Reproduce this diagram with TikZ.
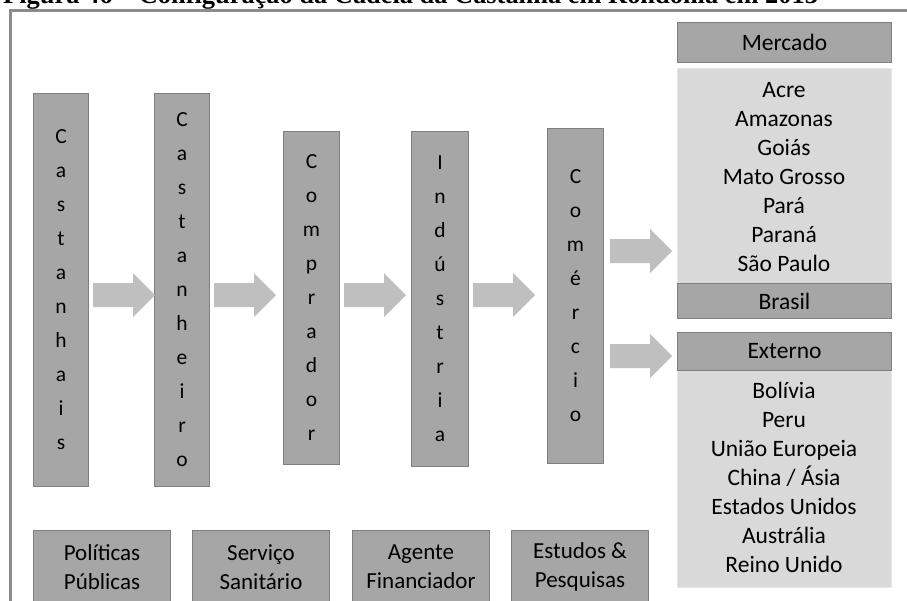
\documentclass[tikz,border=0pt]{standalone}
\usepackage{fontspec}
\setmainfont{Carlito}
\newfontfamily\titlefont{Liberation Serif}
\usetikzlibrary{calc}

\definecolor{caixa}{HTML}{A6A6A6}
\definecolor{borda}{HTML}{7F7F7F}
\definecolor{painel}{HTML}{D9D9D9}
\definecolor{painelborda}{HTML}{E6E6E6}
\definecolor{seta}{HTML}{BFBFBF}
\definecolor{moldura}{HTML}{8C8C8C}

\tikzset{
  elo/.style={draw=borda, fill=caixa, line width=1pt, inner sep=0pt,
    anchor=north west, align=center,
    execute at begin node={\rule{0pt}{26pt}},
    font=\fontsize{21.5}{34}\selectfont},
  apoio/.style={draw=borda, fill=caixa, line width=1pt, inner sep=0pt,
    anchor=north west, minimum width=137pt, minimum height=73pt,
    align=center, font=\fontsize{23}{29}\selectfont},
  faixa/.style={draw=borda, fill=caixa, line width=1pt, inner sep=0pt,
    anchor=north west, minimum width=214pt, align=center,
    font=\fontsize{23.5}{29}\selectfont},
  painelbox/.style={draw=painelborda, fill=painel, line width=1pt,
    inner sep=0pt, anchor=north west, minimum width=214pt},
  lista/.style={align=center, inner sep=0pt, anchor=base,
    font=\fontsize{23.5}{29}\selectfont},
  setafill/.style={fill=seta},
}

% block arrow leaving node #1 (gap #2) at height #3
\newcommand{\blocoseta}[3]{%
  \fill[setafill] ($(#1.east |- 0,#3)+(#2,-12)$) -- ++(40,0) -- ++(0,-10)
    -- ++(22,22) -- ++(-22,22) -- ++(0,-10) -- ++(-40,0) -- cycle;}

\begin{document}
\begin{tikzpicture}[x=1pt,y=-1pt]
  \useasboundingbox (0,0) rectangle (907,600);
  \clip (0,0) rectangle (907,600);

  % heading of the figure
  \node[anchor=base west, inner sep=0pt,
        font=\titlefont\bfseries\fontsize{26.4}{30}\selectfont] (titulo) at (3,3)
    {Figura 46 – Configuração da Cadeia da Castanha em Rondônia em 2013};

  % frame
  \draw[moldura, line width=2.5pt] (10.7,610) -- (10.7,10.5) -- (910,10.5);

  % links of the chain
  \node[elo, minimum width=55pt, minimum height=393pt] (castanhais) at (33,93)
    {C\\a\\s\\t\\a\\n\\h\\a\\i\\s};
  \node[elo, minimum width=55pt, minimum height=393pt] (castanheiro) at (154,93)
    {C\\a\\s\\t\\a\\n\\h\\e\\i\\r\\o};
  \node[elo, minimum width=56pt, minimum height=333pt] (comprador) at (283,131)
    {C\\o\\m\\p\\r\\a\\d\\o\\r};
  \node[elo, minimum width=57pt, minimum height=335pt] (industria) at (411,131)
    {I\\n\\d\\ú\\s\\t\\r\\i\\a};
  \node[elo, minimum width=56pt, minimum height=335pt] (comercio) at (547,128)
    {C\\o\\m\\é\\r\\c\\i\\o};

  % market panels
  \node[faixa, minimum height=40pt] (mercado) at (677,22) {Mercado};
  \node[painelbox, minimum height=250pt] (painelbrasil) at (677,68) {};
  \node[faixa, minimum height=35pt] (brasil) at (677,283) {Brasil};
  \node[lista] (estados) at (784,271)
    {Acre\\Amazonas\\Goiás\\Mato Grosso\\Pará\\Paraná\\São Paulo};

  \node[painelbox, minimum height=255pt] (painelexterno) at (677,332) {};
  \node[faixa, minimum height=38pt] (externo) at (677,332) {Externo};
  \node[lista] (paises) at (784,572)
    {Bolívia\\Peru\\União Europeia\\China / Ásia\\Estados Unidos\\Austrália\\Reino Unido};

  % flow arrows
  \blocoseta{castanhais}{4}{295}
  \blocoseta{castanheiro}{4}{295}
  \blocoseta{comprador}{4}{295}
  \blocoseta{industria}{4}{295}
  \blocoseta{comercio}{6}{251}
  \blocoseta{comercio}{6}{356}

  % supporting agents
  \node[apoio] (politicas) at (33,530) {Políticas\\Públicas};
  \node[apoio] (servico) at (192,530) {Serviço\\Sanitário};
  \node[apoio] (agente) at (352,530) {Agente\\Financiador};
  \node[apoio] (estudos) at (511,530) {Estudos \&\\Pesquisas};
\end{tikzpicture}
\end{document}
